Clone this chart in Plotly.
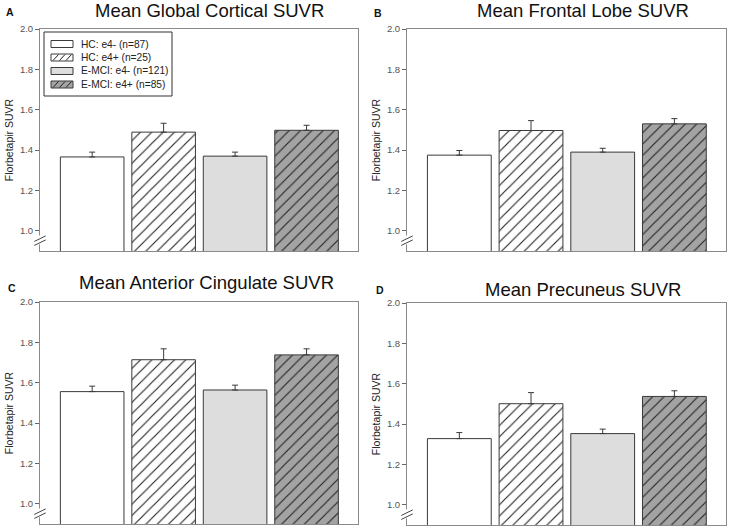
import plotly.graph_objects as go

# ---------------- data ----------------
groups = ["HC: e4- (n=87)", "HC: e4+ (n=25)", "E-MCI: e4- (n=121)", "E-MCI: e4+ (n=85)"]
panel_titles = ["Mean Global Cortical SUVR", "Mean Frontal Lobe SUVR",
                "Mean Anterior Cingulate SUVR", "Mean Precuneus SUVR"]
panel_letters = ["A", "B", "C", "D"]

global_mean = [1.366, 1.489, 1.370, 1.498]
global_err = [0.024, 0.044, 0.020, 0.025]
frontal_mean = [1.375, 1.497, 1.390, 1.530]
frontal_err = [0.023, 0.049, 0.019, 0.026]
cingulate_mean = [1.556, 1.714, 1.564, 1.738]
cingulate_err = [0.027, 0.054, 0.024, 0.030]
precuneus_mean = [1.328, 1.501, 1.353, 1.537]
precuneus_err = [0.030, 0.055, 0.022, 0.028]

y_tick_vals = [1.0, 1.2, 1.4, 1.6, 1.8, 2.0]
y_tick_text = ["1.0", "1.2", "1.4", "1.6", "1.8", "2.0"]
y_title = "Florbetapir SUVR"

# ---------------- styles ----------------
W, H = 730, 529
FONT = "Arial, Liberation Sans, sans-serif"
fills = ["#ffffff", "#ffffff", "#dddddd", "#a3a3a3"]
hatched = [False, True, False, True]
OUT = "#3a3a3a"
HATCH = "#222222"
FRAME = "#8a8a8a"

panel_data = [(global_mean, global_err), (frontal_mean, frontal_err),
              (cingulate_mean, cingulate_err), (precuneus_mean, precuneus_err)]

# pixel layout of each plot frame (left, right, top, bottom)
frames_px = [(40, 358, 29, 251), (407, 726, 29, 251),
             (40, 358, 302, 524), (407, 726, 303, 525)]
title_px = [(209, 11), (583, 11), (206, 282), (583, 289)]
letter_px = [(10, 12), (378, 13), (12, 288), (380, 290)]

fig = go.Figure()
layout = dict(
    width=W, height=H, margin=dict(l=0, r=0, t=0, b=0, autoexpand=False),
    paper_bgcolor="white", plot_bgcolor="white",
    barmode="overlay", font=dict(family=FONT, color="#222"),
    showlegend=False,
)
annotations = []
shapes = []

for p in range(4):
    means, errs = panel_data[p]
    xa = "x" if p == 0 else f"x{p+1}"
    ya = "y" if p == 0 else f"y{p+1}"
    for g in range(4):
        fig.add_trace(go.Bar(
            x=[groups[g]], y=[means[g]], width=0.89,
            name=groups[g], showlegend=False, legendgroup=groups[g],
            marker=dict(color=fills[g], line=dict(color=OUT, width=1),
                        pattern=dict(shape="/" if hatched[g] else "",
                                     fgcolor=HATCH, fgopacity=1,
                                     bgcolor=fills[g], size=8,
                                     solidity=0.14, fillmode="replace")),
            error_y=dict(type="data", symmetric=False, array=[errs[g]],
                         arrayminus=[0], color=OUT, thickness=1, width=3),
            xaxis=xa, yaxis=ya,
        ))
    l, r, t, b = frames_px[p]
    xkey = "xaxis" if p == 0 else f"xaxis{p+1}"
    ykey = "yaxis" if p == 0 else f"yaxis{p+1}"
    layout[xkey] = dict(domain=[l / W, r / W], anchor=ya, range=[-0.73, 3.72],
                        showticklabels=False, ticks="", showgrid=False,
                        zeroline=False, showline=True, linecolor=FRAME,
                        linewidth=1, mirror=True, fixedrange=True,
                        automargin=False,
                        categoryorder="array", categoryarray=groups)
    layout[ykey] = dict(domain=[1 - b / H, 1 - t / H], anchor=xa,
                        range=[0.9, 2.0], tickvals=y_tick_vals,
                        ticktext=y_tick_text, ticks="outside", ticklen=4,
                        tickcolor="#666", showgrid=False, zeroline=False,
                        showline=True, linecolor=FRAME, linewidth=1,
                        mirror=True, automargin=False,
                        tickfont=dict(size=9.5, color="#555", family=FONT),
                        title=dict(text=y_title, standoff=4,
                                   font=dict(size=10.5, color="#222", family=FONT)))
    tx, ty = title_px[p]
    annotations.append(dict(text=panel_titles[p], x=tx / W, y=1 - ty / H,
                            xref="paper", yref="paper", xanchor="center",
                            yanchor="middle", showarrow=False,
                            font=dict(size=18.5, color="#111", family=FONT)))
    lx, ly = letter_px[p]
    annotations.append(dict(text="<b>" + panel_letters[p] + "</b>", x=lx / W,
                            y=1 - ly / H, xref="paper", yref="paper",
                            xanchor="center", yanchor="middle", showarrow=False,
                            font=dict(size=10.5, color="#111", family=FONT)))
    # axis-break marks on the y axis
    xd = f"{xa} domain"
    yd = f"{ya} domain"
    shapes.append(dict(type="rect", xref=xd, yref=yd, x0=-0.01, x1=0.01,
                       y0=0.03, y1=0.07, fillcolor="white",
                       line=dict(width=0), layer="above"))
    for off in (0.0, 0.018):
        shapes.append(dict(type="line", xref=xd, yref=yd, x0=-0.018, x1=0.018,
                           y0=0.025 + off, y1=0.05 + off,
                           line=dict(color="#444", width=1), layer="above"))

# ---------------- legend (drawn in panel A, SigmaPlot style) ----------------
LEG_L, LEG_R, LEG_T, LEG_B = 44, 172, 32, 96
shapes.append(dict(type="rect", xref="paper", yref="paper",
                   x0=LEG_L / W, x1=LEG_R / W, y0=1 - LEG_B / H, y1=1 - LEG_T / H,
                   fillcolor="white", line=dict(color="#333", width=1),
                   layer="above"))
row_y = [44, 57.5, 71, 84.5]
SW_L, SW_R, SW_HALF = 51, 73, 3.5
for g in range(4):
    cy = row_y[g]
    shapes.append(dict(type="rect", xref="paper", yref="paper",
                       x0=SW_L / W, x1=SW_R / W,
                       y0=1 - (cy + SW_HALF) / H, y1=1 - (cy - SW_HALF) / H,
                       fillcolor=fills[g], line=dict(color=OUT, width=1),
                       layer="above"))
    if hatched[g]:
        for k in range(3):
            x0 = SW_L + 2 + k * 6.5
            shapes.append(dict(type="line", xref="paper", yref="paper",
                               x0=x0 / W, x1=(x0 + 5.5) / W,
                               y0=1 - (cy + SW_HALF - 0.5) / H,
                               y1=1 - (cy - SW_HALF + 0.5) / H,
                               line=dict(color="#222", width=1), layer="above"))
    annotations.append(dict(text=groups[g], x=79 / W, y=1 - cy / H,
                            xref="paper", yref="paper", xanchor="left",
                            yanchor="middle", showarrow=False,
                            font=dict(size=10.2, color="#222", family=FONT)))

layout["annotations"] = annotations
layout["shapes"] = shapes
fig.update_layout(**layout)
fig.write_html("out.html", config={"displayModeBar": False},
               post_script="document.body.style.margin='0';document.body.style.padding='0';")
